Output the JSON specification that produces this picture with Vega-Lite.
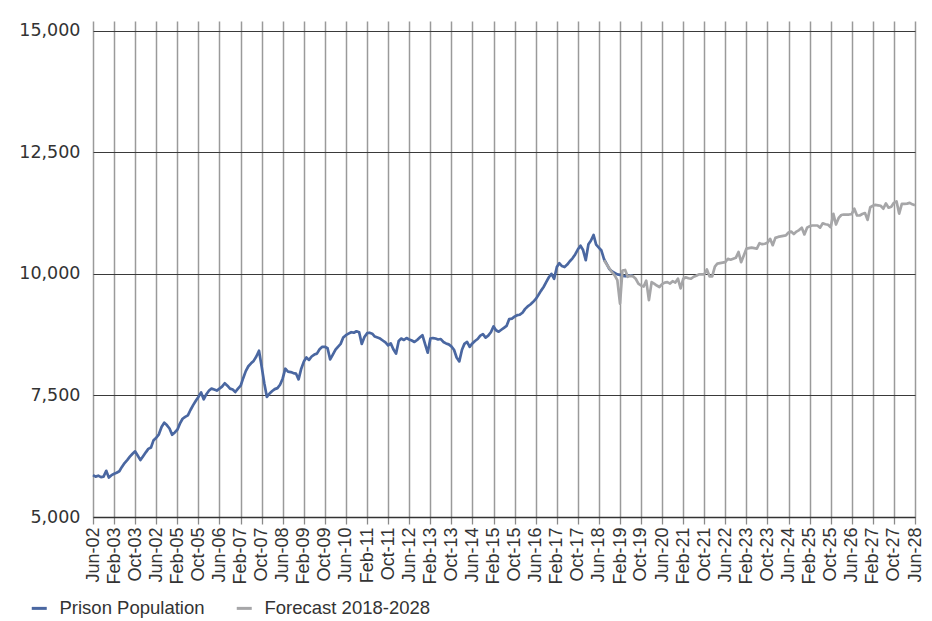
{
"$schema": "https://vega.github.io/schema/vega-lite/v6.json",
"width": 822, "height": 496,
"autosize": {"type": "none"},
"padding": {"left": 93, "top": 21, "right": 17, "bottom": 104},
"background": "white",
"config": {"view": {"stroke": null}, "font": "Liberation Sans"},
"datasets": {
"actual": [
{"month":"2002-06","series":"Prison Population","value":5860},{"month":"2002-07","series":"Prison Population","value":5830},{"month":"2002-08","series":"Prison Population","value":5850},{"month":"2002-09","series":"Prison Population","value":5820},{"month":"2002-10","series":"Prison Population","value":5830},{"month":"2002-11","series":"Prison Population","value":5950},{"month":"2002-12","series":"Prison Population","value":5810},
{"month":"2003-01","series":"Prison Population","value":5860},{"month":"2003-02","series":"Prison Population","value":5890},{"month":"2003-03","series":"Prison Population","value":5910},{"month":"2003-04","series":"Prison Population","value":5940},{"month":"2003-05","series":"Prison Population","value":6030},{"month":"2003-06","series":"Prison Population","value":6110},{"month":"2003-07","series":"Prison Population","value":6170},{"month":"2003-08","series":"Prison Population","value":6240},{"month":"2003-09","series":"Prison Population","value":6300},{"month":"2003-10","series":"Prison Population","value":6350},{"month":"2003-11","series":"Prison Population","value":6260},{"month":"2003-12","series":"Prison Population","value":6170},
{"month":"2004-01","series":"Prison Population","value":6250},{"month":"2004-02","series":"Prison Population","value":6330},{"month":"2004-03","series":"Prison Population","value":6400},{"month":"2004-04","series":"Prison Population","value":6430},{"month":"2004-05","series":"Prison Population","value":6580},{"month":"2004-06","series":"Prison Population","value":6630},{"month":"2004-07","series":"Prison Population","value":6700},{"month":"2004-08","series":"Prison Population","value":6850},{"month":"2004-09","series":"Prison Population","value":6940},{"month":"2004-10","series":"Prison Population","value":6890},{"month":"2004-11","series":"Prison Population","value":6820},{"month":"2004-12","series":"Prison Population","value":6690},
{"month":"2005-01","series":"Prison Population","value":6740},{"month":"2005-02","series":"Prison Population","value":6800},{"month":"2005-03","series":"Prison Population","value":6920},{"month":"2005-04","series":"Prison Population","value":7020},{"month":"2005-05","series":"Prison Population","value":7060},{"month":"2005-06","series":"Prison Population","value":7090},{"month":"2005-07","series":"Prison Population","value":7200},{"month":"2005-08","series":"Prison Population","value":7300},{"month":"2005-09","series":"Prison Population","value":7390},{"month":"2005-10","series":"Prison Population","value":7470},{"month":"2005-11","series":"Prison Population","value":7560},{"month":"2005-12","series":"Prison Population","value":7420},
{"month":"2006-01","series":"Prison Population","value":7525},{"month":"2006-02","series":"Prison Population","value":7600},{"month":"2006-03","series":"Prison Population","value":7640},{"month":"2006-04","series":"Prison Population","value":7620},{"month":"2006-05","series":"Prison Population","value":7600},{"month":"2006-06","series":"Prison Population","value":7640},{"month":"2006-07","series":"Prison Population","value":7680},{"month":"2006-08","series":"Prison Population","value":7750},{"month":"2006-09","series":"Prison Population","value":7700},{"month":"2006-10","series":"Prison Population","value":7640},{"month":"2006-11","series":"Prison Population","value":7620},{"month":"2006-12","series":"Prison Population","value":7570},
{"month":"2007-01","series":"Prison Population","value":7640},{"month":"2007-02","series":"Prison Population","value":7700},{"month":"2007-03","series":"Prison Population","value":7850},{"month":"2007-04","series":"Prison Population","value":8000},{"month":"2007-05","series":"Prison Population","value":8100},{"month":"2007-06","series":"Prison Population","value":8160},{"month":"2007-07","series":"Prison Population","value":8210},{"month":"2007-08","series":"Prison Population","value":8300},{"month":"2007-09","series":"Prison Population","value":8420},{"month":"2007-10","series":"Prison Population","value":8100},{"month":"2007-11","series":"Prison Population","value":7750},{"month":"2007-12","series":"Prison Population","value":7470},
{"month":"2008-01","series":"Prison Population","value":7540},{"month":"2008-02","series":"Prison Population","value":7590},{"month":"2008-03","series":"Prison Population","value":7630},{"month":"2008-04","series":"Prison Population","value":7650},{"month":"2008-05","series":"Prison Population","value":7720},{"month":"2008-06","series":"Prison Population","value":7850},{"month":"2008-07","series":"Prison Population","value":8050},{"month":"2008-08","series":"Prison Population","value":7990},{"month":"2008-09","series":"Prison Population","value":7980},{"month":"2008-10","series":"Prison Population","value":7960},{"month":"2008-11","series":"Prison Population","value":7950},{"month":"2008-12","series":"Prison Population","value":7830},
{"month":"2009-01","series":"Prison Population","value":8050},{"month":"2009-02","series":"Prison Population","value":8200},{"month":"2009-03","series":"Prison Population","value":8280},{"month":"2009-04","series":"Prison Population","value":8230},{"month":"2009-05","series":"Prison Population","value":8300},{"month":"2009-06","series":"Prison Population","value":8340},{"month":"2009-07","series":"Prison Population","value":8360},{"month":"2009-08","series":"Prison Population","value":8450},{"month":"2009-09","series":"Prison Population","value":8500},{"month":"2009-10","series":"Prison Population","value":8500},{"month":"2009-11","series":"Prison Population","value":8470},{"month":"2009-12","series":"Prison Population","value":8240},
{"month":"2010-01","series":"Prison Population","value":8340},{"month":"2010-02","series":"Prison Population","value":8440},{"month":"2010-03","series":"Prison Population","value":8500},{"month":"2010-04","series":"Prison Population","value":8560},{"month":"2010-05","series":"Prison Population","value":8690},{"month":"2010-06","series":"Prison Population","value":8740},{"month":"2010-07","series":"Prison Population","value":8770},{"month":"2010-08","series":"Prison Population","value":8800},{"month":"2010-09","series":"Prison Population","value":8790},{"month":"2010-10","series":"Prison Population","value":8820},{"month":"2010-11","series":"Prison Population","value":8800},{"month":"2010-12","series":"Prison Population","value":8560},
{"month":"2011-01","series":"Prison Population","value":8700},{"month":"2011-02","series":"Prison Population","value":8780},{"month":"2011-03","series":"Prison Population","value":8790},{"month":"2011-04","series":"Prison Population","value":8770},{"month":"2011-05","series":"Prison Population","value":8710},{"month":"2011-06","series":"Prison Population","value":8690},{"month":"2011-07","series":"Prison Population","value":8670},{"month":"2011-08","series":"Prison Population","value":8630},{"month":"2011-09","series":"Prison Population","value":8590},{"month":"2011-10","series":"Prison Population","value":8530},{"month":"2011-11","series":"Prison Population","value":8570},{"month":"2011-12","series":"Prison Population","value":8450},
{"month":"2012-01","series":"Prison Population","value":8360},{"month":"2012-02","series":"Prison Population","value":8620},{"month":"2012-03","series":"Prison Population","value":8670},{"month":"2012-04","series":"Prison Population","value":8640},{"month":"2012-05","series":"Prison Population","value":8680},{"month":"2012-06","series":"Prison Population","value":8650},{"month":"2012-07","series":"Prison Population","value":8630},{"month":"2012-08","series":"Prison Population","value":8600},{"month":"2012-09","series":"Prison Population","value":8640},{"month":"2012-10","series":"Prison Population","value":8690},{"month":"2012-11","series":"Prison Population","value":8740},{"month":"2012-12","series":"Prison Population","value":8560},
{"month":"2013-01","series":"Prison Population","value":8380},{"month":"2013-02","series":"Prison Population","value":8670},{"month":"2013-03","series":"Prison Population","value":8680},{"month":"2013-04","series":"Prison Population","value":8670},{"month":"2013-05","series":"Prison Population","value":8650},{"month":"2013-06","series":"Prison Population","value":8660},{"month":"2013-07","series":"Prison Population","value":8600},{"month":"2013-08","series":"Prison Population","value":8570},{"month":"2013-09","series":"Prison Population","value":8550},{"month":"2013-10","series":"Prison Population","value":8510},{"month":"2013-11","series":"Prison Population","value":8440},{"month":"2013-12","series":"Prison Population","value":8280},
{"month":"2014-01","series":"Prison Population","value":8200},{"month":"2014-02","series":"Prison Population","value":8440},{"month":"2014-03","series":"Prison Population","value":8560},{"month":"2014-04","series":"Prison Population","value":8600},{"month":"2014-05","series":"Prison Population","value":8500},{"month":"2014-06","series":"Prison Population","value":8570},{"month":"2014-07","series":"Prison Population","value":8620},{"month":"2014-08","series":"Prison Population","value":8660},{"month":"2014-09","series":"Prison Population","value":8730},{"month":"2014-10","series":"Prison Population","value":8760},{"month":"2014-11","series":"Prison Population","value":8690},{"month":"2014-12","series":"Prison Population","value":8730},
{"month":"2015-01","series":"Prison Population","value":8800},{"month":"2015-02","series":"Prison Population","value":8920},{"month":"2015-03","series":"Prison Population","value":8840},{"month":"2015-04","series":"Prison Population","value":8810},{"month":"2015-05","series":"Prison Population","value":8850},{"month":"2015-06","series":"Prison Population","value":8890},{"month":"2015-07","series":"Prison Population","value":8930},{"month":"2015-08","series":"Prison Population","value":9070},{"month":"2015-09","series":"Prison Population","value":9080},{"month":"2015-10","series":"Prison Population","value":9120},{"month":"2015-11","series":"Prison Population","value":9150},{"month":"2015-12","series":"Prison Population","value":9160},
{"month":"2016-01","series":"Prison Population","value":9200},{"month":"2016-02","series":"Prison Population","value":9280},{"month":"2016-03","series":"Prison Population","value":9330},{"month":"2016-04","series":"Prison Population","value":9370},{"month":"2016-05","series":"Prison Population","value":9420},{"month":"2016-06","series":"Prison Population","value":9480},{"month":"2016-07","series":"Prison Population","value":9560},{"month":"2016-08","series":"Prison Population","value":9650},{"month":"2016-09","series":"Prison Population","value":9730},{"month":"2016-10","series":"Prison Population","value":9830},{"month":"2016-11","series":"Prison Population","value":9930},{"month":"2016-12","series":"Prison Population","value":10000},
{"month":"2017-01","series":"Prison Population","value":9900},{"month":"2017-02","series":"Prison Population","value":10140},{"month":"2017-03","series":"Prison Population","value":10220},{"month":"2017-04","series":"Prison Population","value":10160},{"month":"2017-05","series":"Prison Population","value":10140},{"month":"2017-06","series":"Prison Population","value":10190},{"month":"2017-07","series":"Prison Population","value":10260},{"month":"2017-08","series":"Prison Population","value":10320},{"month":"2017-09","series":"Prison Population","value":10400},{"month":"2017-10","series":"Prison Population","value":10500},{"month":"2017-11","series":"Prison Population","value":10580},{"month":"2017-12","series":"Prison Population","value":10490},
{"month":"2018-01","series":"Prison Population","value":10280},{"month":"2018-02","series":"Prison Population","value":10610},{"month":"2018-03","series":"Prison Population","value":10680},{"month":"2018-04","series":"Prison Population","value":10800},{"month":"2018-05","series":"Prison Population","value":10600},{"month":"2018-06","series":"Prison Population","value":10540},{"month":"2018-07","series":"Prison Population","value":10480},{"month":"2018-08","series":"Prison Population","value":10300},{"month":"2018-09","series":"Prison Population","value":10200},{"month":"2018-10","series":"Prison Population","value":10100},{"month":"2018-11","series":"Prison Population","value":10050},{"month":"2018-12","series":"Prison Population","value":10020},
{"month":"2019-01","series":"Prison Population","value":9990},{"month":"2019-02","series":"Prison Population","value":9980},{"month":"2019-03","series":"Prison Population","value":9960},{"month":"2019-04","series":"Prison Population","value":9950},{"month":"2019-05","series":"Prison Population","value":9960},{"month":"2019-06","series":"Prison Population","value":9970},{"month":"2019-07","series":"Prison Population","value":9960}
],
"forecast": [
{"month":"2018-08","series":"Forecast 2018-2028","value":10280},{"month":"2018-09","series":"Forecast 2018-2028","value":10190},{"month":"2018-10","series":"Forecast 2018-2028","value":10110},{"month":"2018-11","series":"Forecast 2018-2028","value":10030},{"month":"2018-12","series":"Forecast 2018-2028","value":9970},
{"month":"2019-01","series":"Forecast 2018-2028","value":9870},{"month":"2019-02","series":"Forecast 2018-2028","value":9390},{"month":"2019-03","series":"Forecast 2018-2028","value":10070},{"month":"2019-04","series":"Forecast 2018-2028","value":10080},{"month":"2019-05","series":"Forecast 2018-2028","value":9940},{"month":"2019-06","series":"Forecast 2018-2028","value":9960},{"month":"2019-07","series":"Forecast 2018-2028","value":9950},{"month":"2019-08","series":"Forecast 2018-2028","value":9900},{"month":"2019-09","series":"Forecast 2018-2028","value":9800},{"month":"2019-10","series":"Forecast 2018-2028","value":9760},{"month":"2019-11","series":"Forecast 2018-2028","value":9740},{"month":"2019-12","series":"Forecast 2018-2028","value":9860},
{"month":"2020-01","series":"Forecast 2018-2028","value":9460},{"month":"2020-02","series":"Forecast 2018-2028","value":9830},{"month":"2020-03","series":"Forecast 2018-2028","value":9800},{"month":"2020-04","series":"Forecast 2018-2028","value":9760},{"month":"2020-05","series":"Forecast 2018-2028","value":9730},{"month":"2020-06","series":"Forecast 2018-2028","value":9790},{"month":"2020-07","series":"Forecast 2018-2028","value":9820},{"month":"2020-08","series":"Forecast 2018-2028","value":9830},{"month":"2020-09","series":"Forecast 2018-2028","value":9800},{"month":"2020-10","series":"Forecast 2018-2028","value":9850},{"month":"2020-11","series":"Forecast 2018-2028","value":9820},{"month":"2020-12","series":"Forecast 2018-2028","value":9900},
{"month":"2021-01","series":"Forecast 2018-2028","value":9700},{"month":"2021-02","series":"Forecast 2018-2028","value":9900},{"month":"2021-03","series":"Forecast 2018-2028","value":9930},{"month":"2021-04","series":"Forecast 2018-2028","value":9910},{"month":"2021-05","series":"Forecast 2018-2028","value":9900},{"month":"2021-06","series":"Forecast 2018-2028","value":9940},{"month":"2021-07","series":"Forecast 2018-2028","value":9960},{"month":"2021-08","series":"Forecast 2018-2028","value":9990},{"month":"2021-09","series":"Forecast 2018-2028","value":9990},{"month":"2021-10","series":"Forecast 2018-2028","value":9990},{"month":"2021-11","series":"Forecast 2018-2028","value":10090},{"month":"2021-12","series":"Forecast 2018-2028","value":9950},
{"month":"2022-01","series":"Forecast 2018-2028","value":9950},{"month":"2022-02","series":"Forecast 2018-2028","value":10150},{"month":"2022-03","series":"Forecast 2018-2028","value":10210},{"month":"2022-04","series":"Forecast 2018-2028","value":10220},{"month":"2022-05","series":"Forecast 2018-2028","value":10230},{"month":"2022-06","series":"Forecast 2018-2028","value":10240},{"month":"2022-07","series":"Forecast 2018-2028","value":10310},{"month":"2022-08","series":"Forecast 2018-2028","value":10290},{"month":"2022-09","series":"Forecast 2018-2028","value":10310},{"month":"2022-10","series":"Forecast 2018-2028","value":10330},{"month":"2022-11","series":"Forecast 2018-2028","value":10450},{"month":"2022-12","series":"Forecast 2018-2028","value":10240},
{"month":"2023-01","series":"Forecast 2018-2028","value":10380},{"month":"2023-02","series":"Forecast 2018-2028","value":10520},{"month":"2023-03","series":"Forecast 2018-2028","value":10530},{"month":"2023-04","series":"Forecast 2018-2028","value":10540},{"month":"2023-05","series":"Forecast 2018-2028","value":10530},{"month":"2023-06","series":"Forecast 2018-2028","value":10520},{"month":"2023-07","series":"Forecast 2018-2028","value":10630},{"month":"2023-08","series":"Forecast 2018-2028","value":10610},{"month":"2023-09","series":"Forecast 2018-2028","value":10620},{"month":"2023-10","series":"Forecast 2018-2028","value":10640},{"month":"2023-11","series":"Forecast 2018-2028","value":10720},{"month":"2023-12","series":"Forecast 2018-2028","value":10590},
{"month":"2024-01","series":"Forecast 2018-2028","value":10740},{"month":"2024-02","series":"Forecast 2018-2028","value":10760},{"month":"2024-03","series":"Forecast 2018-2028","value":10770},{"month":"2024-04","series":"Forecast 2018-2028","value":10780},{"month":"2024-05","series":"Forecast 2018-2028","value":10790},{"month":"2024-06","series":"Forecast 2018-2028","value":10850},{"month":"2024-07","series":"Forecast 2018-2028","value":10870},{"month":"2024-08","series":"Forecast 2018-2028","value":10820},{"month":"2024-09","series":"Forecast 2018-2028","value":10870},{"month":"2024-10","series":"Forecast 2018-2028","value":10900},{"month":"2024-11","series":"Forecast 2018-2028","value":10950},{"month":"2024-12","series":"Forecast 2018-2028","value":10810},
{"month":"2025-01","series":"Forecast 2018-2028","value":10950},{"month":"2025-02","series":"Forecast 2018-2028","value":10980},{"month":"2025-03","series":"Forecast 2018-2028","value":10995},{"month":"2025-04","series":"Forecast 2018-2028","value":10995},{"month":"2025-05","series":"Forecast 2018-2028","value":10995},{"month":"2025-06","series":"Forecast 2018-2028","value":10950},{"month":"2025-07","series":"Forecast 2018-2028","value":11040},{"month":"2025-08","series":"Forecast 2018-2028","value":11020},{"month":"2025-09","series":"Forecast 2018-2028","value":11010},{"month":"2025-10","series":"Forecast 2018-2028","value":10960},{"month":"2025-11","series":"Forecast 2018-2028","value":11235},{"month":"2025-12","series":"Forecast 2018-2028","value":11015},
{"month":"2026-01","series":"Forecast 2018-2028","value":11150},{"month":"2026-02","series":"Forecast 2018-2028","value":11210},{"month":"2026-03","series":"Forecast 2018-2028","value":11220},{"month":"2026-04","series":"Forecast 2018-2028","value":11220},{"month":"2026-05","series":"Forecast 2018-2028","value":11220},{"month":"2026-06","series":"Forecast 2018-2028","value":11230},{"month":"2026-07","series":"Forecast 2018-2028","value":11340},{"month":"2026-08","series":"Forecast 2018-2028","value":11200},{"month":"2026-09","series":"Forecast 2018-2028","value":11200},{"month":"2026-10","series":"Forecast 2018-2028","value":11230},{"month":"2026-11","series":"Forecast 2018-2028","value":11250},{"month":"2026-12","series":"Forecast 2018-2028","value":11110},
{"month":"2027-01","series":"Forecast 2018-2028","value":11370},{"month":"2027-02","series":"Forecast 2018-2028","value":11400},{"month":"2027-03","series":"Forecast 2018-2028","value":11420},{"month":"2027-04","series":"Forecast 2018-2028","value":11410},{"month":"2027-05","series":"Forecast 2018-2028","value":11400},{"month":"2027-06","series":"Forecast 2018-2028","value":11340},{"month":"2027-07","series":"Forecast 2018-2028","value":11450},{"month":"2027-08","series":"Forecast 2018-2028","value":11360},{"month":"2027-09","series":"Forecast 2018-2028","value":11380},{"month":"2027-10","series":"Forecast 2018-2028","value":11460},{"month":"2027-11","series":"Forecast 2018-2028","value":11490},{"month":"2027-12","series":"Forecast 2018-2028","value":11240},
{"month":"2028-01","series":"Forecast 2018-2028","value":11440},{"month":"2028-02","series":"Forecast 2018-2028","value":11440},{"month":"2028-03","series":"Forecast 2018-2028","value":11445},{"month":"2028-04","series":"Forecast 2018-2028","value":11460},{"month":"2028-05","series":"Forecast 2018-2028","value":11430},{"month":"2028-06","series":"Forecast 2018-2028","value":11410}
]
},
"encoding": {
  "x": {"field": "month", "type": "temporal",
    "scale": {"type": "utc", "domain": [{"year": 2002, "month": 6, "date": 1, "utc": true}, {"year": 2028, "month": 6, "date": 1, "utc": true}], "nice": false},
    "axis": {
      "title": null,
      "values": [
        {"year":2002,"month":6,"date":1,"utc":true},{"year":2003,"month":2,"date":1,"utc":true},{"year":2003,"month":10,"date":1,"utc":true},
        {"year":2004,"month":6,"date":1,"utc":true},{"year":2005,"month":2,"date":1,"utc":true},{"year":2005,"month":10,"date":1,"utc":true},
        {"year":2006,"month":6,"date":1,"utc":true},{"year":2007,"month":2,"date":1,"utc":true},{"year":2007,"month":10,"date":1,"utc":true},
        {"year":2008,"month":6,"date":1,"utc":true},{"year":2009,"month":2,"date":1,"utc":true},{"year":2009,"month":10,"date":1,"utc":true},
        {"year":2010,"month":6,"date":1,"utc":true},{"year":2011,"month":2,"date":1,"utc":true},{"year":2011,"month":10,"date":1,"utc":true},
        {"year":2012,"month":6,"date":1,"utc":true},{"year":2013,"month":2,"date":1,"utc":true},{"year":2013,"month":10,"date":1,"utc":true},
        {"year":2014,"month":6,"date":1,"utc":true},{"year":2015,"month":2,"date":1,"utc":true},{"year":2015,"month":10,"date":1,"utc":true},
        {"year":2016,"month":6,"date":1,"utc":true},{"year":2017,"month":2,"date":1,"utc":true},{"year":2017,"month":10,"date":1,"utc":true},
        {"year":2018,"month":6,"date":1,"utc":true},{"year":2019,"month":2,"date":1,"utc":true},{"year":2019,"month":10,"date":1,"utc":true},
        {"year":2020,"month":6,"date":1,"utc":true},{"year":2021,"month":2,"date":1,"utc":true},{"year":2021,"month":10,"date":1,"utc":true},
        {"year":2022,"month":6,"date":1,"utc":true},{"year":2023,"month":2,"date":1,"utc":true},{"year":2023,"month":10,"date":1,"utc":true},
        {"year":2024,"month":6,"date":1,"utc":true},{"year":2025,"month":2,"date":1,"utc":true},{"year":2025,"month":10,"date":1,"utc":true},
        {"year":2026,"month":6,"date":1,"utc":true},{"year":2027,"month":2,"date":1,"utc":true},{"year":2027,"month":10,"date":1,"utc":true},
        {"year":2028,"month":6,"date":1,"utc":true}
      ],
      "labelExpr": "utcFormat(datum.value, '%b-%y') == 'Jun-04' ? 'Jun-02' : utcFormat(datum.value, '%b-%y')",
      "labelAngle": 270, "labelAlign": "right", "labelBaseline": "middle",
      "labelFontSize": 18, "labelColor": "#333333", "labelPadding": 3,
      "labelOverlap": false, "labelFlush": false, "labelBound": false,
      "tickSize": 7, "tickColor": "#8a8a8a", "tickWidth": 1.3,
      "grid": true, "gridColor": "#9a9a9a", "gridWidth": 1.5,
      "domain": true, "domainColor": "#333333", "domainWidth": 1.3
    }
  },
  "y": {"field": "value", "type": "quantitative",
    "scale": {"domain": [5000, 15200], "nice": false, "zero": false},
    "axis": {"title": null, "values": [5000, 7500, 10000, 12500, 15000], "format": ",.0f",
      "domain": false, "ticks": false, "labelPadding": 13, "labelFont": "DejaVu Sans", "labelFontSize": 17.5, "labelColor": "#333333",
      "grid": true, "gridColor": "#3a3a3a", "gridWidth": 1.2}
  },
  "color": {"field": "series", "type": "nominal",
    "scale": {"domain": ["Prison Population", "Forecast 2018-2028"], "range": ["#4a67a1", "#a6a6a8"]},
    "legend": {"orient": "none", "legendX": -63, "legendY": 578, "direction": "horizontal", "title": null,
      "symbolType": "stroke", "symbolStrokeWidth": 3, "symbolSize": 225, "labelFontSize": 18.5, "labelLimit": 400,
      "labelColor": "#333333", "labelOffset": 11, "columnPadding": 25}
  }
},
"layer": [
  {"data": {"name": "actual"}, "mark": {"type": "line", "strokeWidth": 2.7, "strokeJoin": "round"}},
  {"data": {"name": "forecast"}, "mark": {"type": "line", "strokeWidth": 2.7, "strokeJoin": "round"}}
]
}
